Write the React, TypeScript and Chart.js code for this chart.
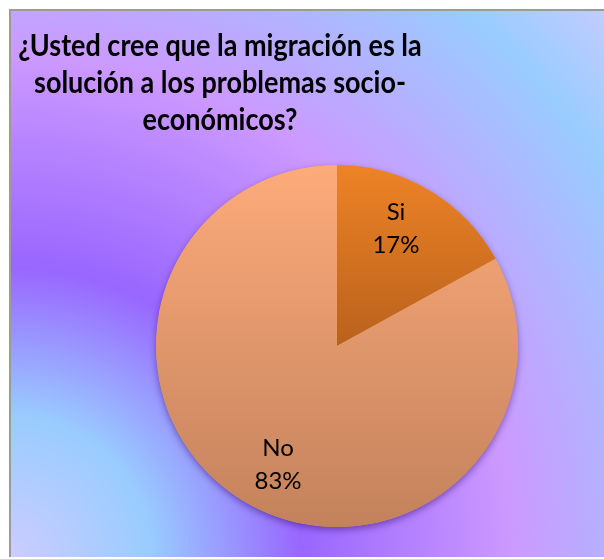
import React, { useEffect, useRef } from "react";
import { Chart, registerables } from "chart.js";

Chart.register(...registerables);

const categories = ["Si", "No"];
const values = [17, 83];
const percentLabels = ["17%", "83%"];
const titleLines = [
  "¿Usted cree que la migración es la",
  "solución a los problemas socio-",
  "económicos?",
];
const sliceTopColors = ["#EE8326", "#FDAB7B"];
const sliceMidColors = ["#B9611C", "#E0966B"];
const sliceBottomColors = ["#854010", "#C3825C"];

const CANVAS_W = 593;
const CANVAS_H = 546;

const shadowPlugin = {
  id: "pieShadow",
  beforeDatasetsDraw(chart: any) {
    const arc = chart.getDatasetMeta(0).data[0] as any;
    if (!arc) return;
    const ctx = chart.ctx as CanvasRenderingContext2D;
    ctx.save();
    ctx.shadowColor = "rgba(40,0,90,0.45)";
    ctx.shadowBlur = 7;
    ctx.shadowOffsetY = 3;
    ctx.beginPath();
    ctx.arc(arc.x, arc.y, arc.outerRadius, 0, Math.PI * 2);
    ctx.fillStyle = "#E0966B";
    ctx.fill();
    ctx.restore();
  },
};

const labelPlugin = {
  id: "sliceLabels",
  afterDatasetsDraw(chart: any) {
    const ctx = chart.ctx as CanvasRenderingContext2D;
    const meta = chart.getDatasetMeta(0);
    ctx.save();
    ctx.fillStyle = "#000000";
    ctx.font = "24px Lato";
    ctx.textAlign = "center";
    ctx.textBaseline = "alphabetic";
    meta.data.forEach((el: any, i: number) => {
      const mid = (el.startAngle + el.endAngle) / 2;
      const r = el.outerRadius;
      const px = el.x + Math.cos(mid) * r * 0.64;
      const py = el.y + Math.sin(mid) * r * 0.76;
      ctx.fillText(categories[i], px, py - 8);
      ctx.fillText(percentLabels[i], px, py + 25);
    });
    ctx.restore();
  },
};

const titlePlugin = {
  id: "boxTitle",
  afterDraw(chart: any) {
    const ctx = chart.ctx as CanvasRenderingContext2D;
    ctx.fillStyle = "#000000";
    ctx.font = "bold 27px Lato";
    ctx.textAlign = "center";
    ctx.textBaseline = "alphabetic";
    titleLines.forEach((line, i) => {
      ctx.save();
      ctx.translate(209, 45 + i * 37);
      ctx.scale(1, 1.12);
      ctx.fillText(line, 0, 0);
      ctx.restore();
    });
  },
};

export default function App() {
  const canvasRef = useRef<HTMLCanvasElement | null>(null);

  useEffect(() => {
    const canvas = canvasRef.current;
    if (!canvas) return;
    const chart = new Chart(canvas, {
      type: "pie",
      data: {
        labels: categories,
        datasets: [
          {
            data: values,
            borderWidth: 0,
            backgroundColor: (context: any) => {
              const c = context.chart;
              const area = c.chartArea;
              if (!area) return sliceTopColors[context.dataIndex];
              const i = context.dataIndex;
              const g = c.ctx.createLinearGradient(0, area.top, 0, area.bottom);
              g.addColorStop(0, sliceTopColors[i]);
              g.addColorStop(0.5, sliceMidColors[i]);
              g.addColorStop(1, sliceBottomColors[i]);
              return g;
            },
          },
        ],
      },
      options: {
        responsive: false,
        animation: false,
        devicePixelRatio: 1,
        layout: { padding: { left: 145, right: 86, top: 154, bottom: 30 } },
        plugins: {
          legend: { display: false },
          tooltip: { enabled: false },
          title: { display: false },
        },
      },
      plugins: [shadowPlugin, labelPlugin, titlePlugin],
    });
    return () => chart.destroy();
  }, []);

  return (
    <div
      style={{
        position: "fixed",
        left: 9,
        top: 9,
        width: CANVAS_W,
        height: CANVAS_H,
        borderLeft: "2px solid #9b9b9b",
        borderTop: "2px solid #9b9b9b",
        background:
          "radial-gradient(circle farthest-corner at 0% 100%, #CCCCFF 0px, #99CCFF 140px, #9966FF 290px, #CC99FF 500px, #99CCFF 710px, #CCCCFF 830px)",
      }}
    >
      <canvas ref={canvasRef} width={CANVAS_W} height={CANVAS_H} style={{ display: "block" }} />
    </div>
  );
}
